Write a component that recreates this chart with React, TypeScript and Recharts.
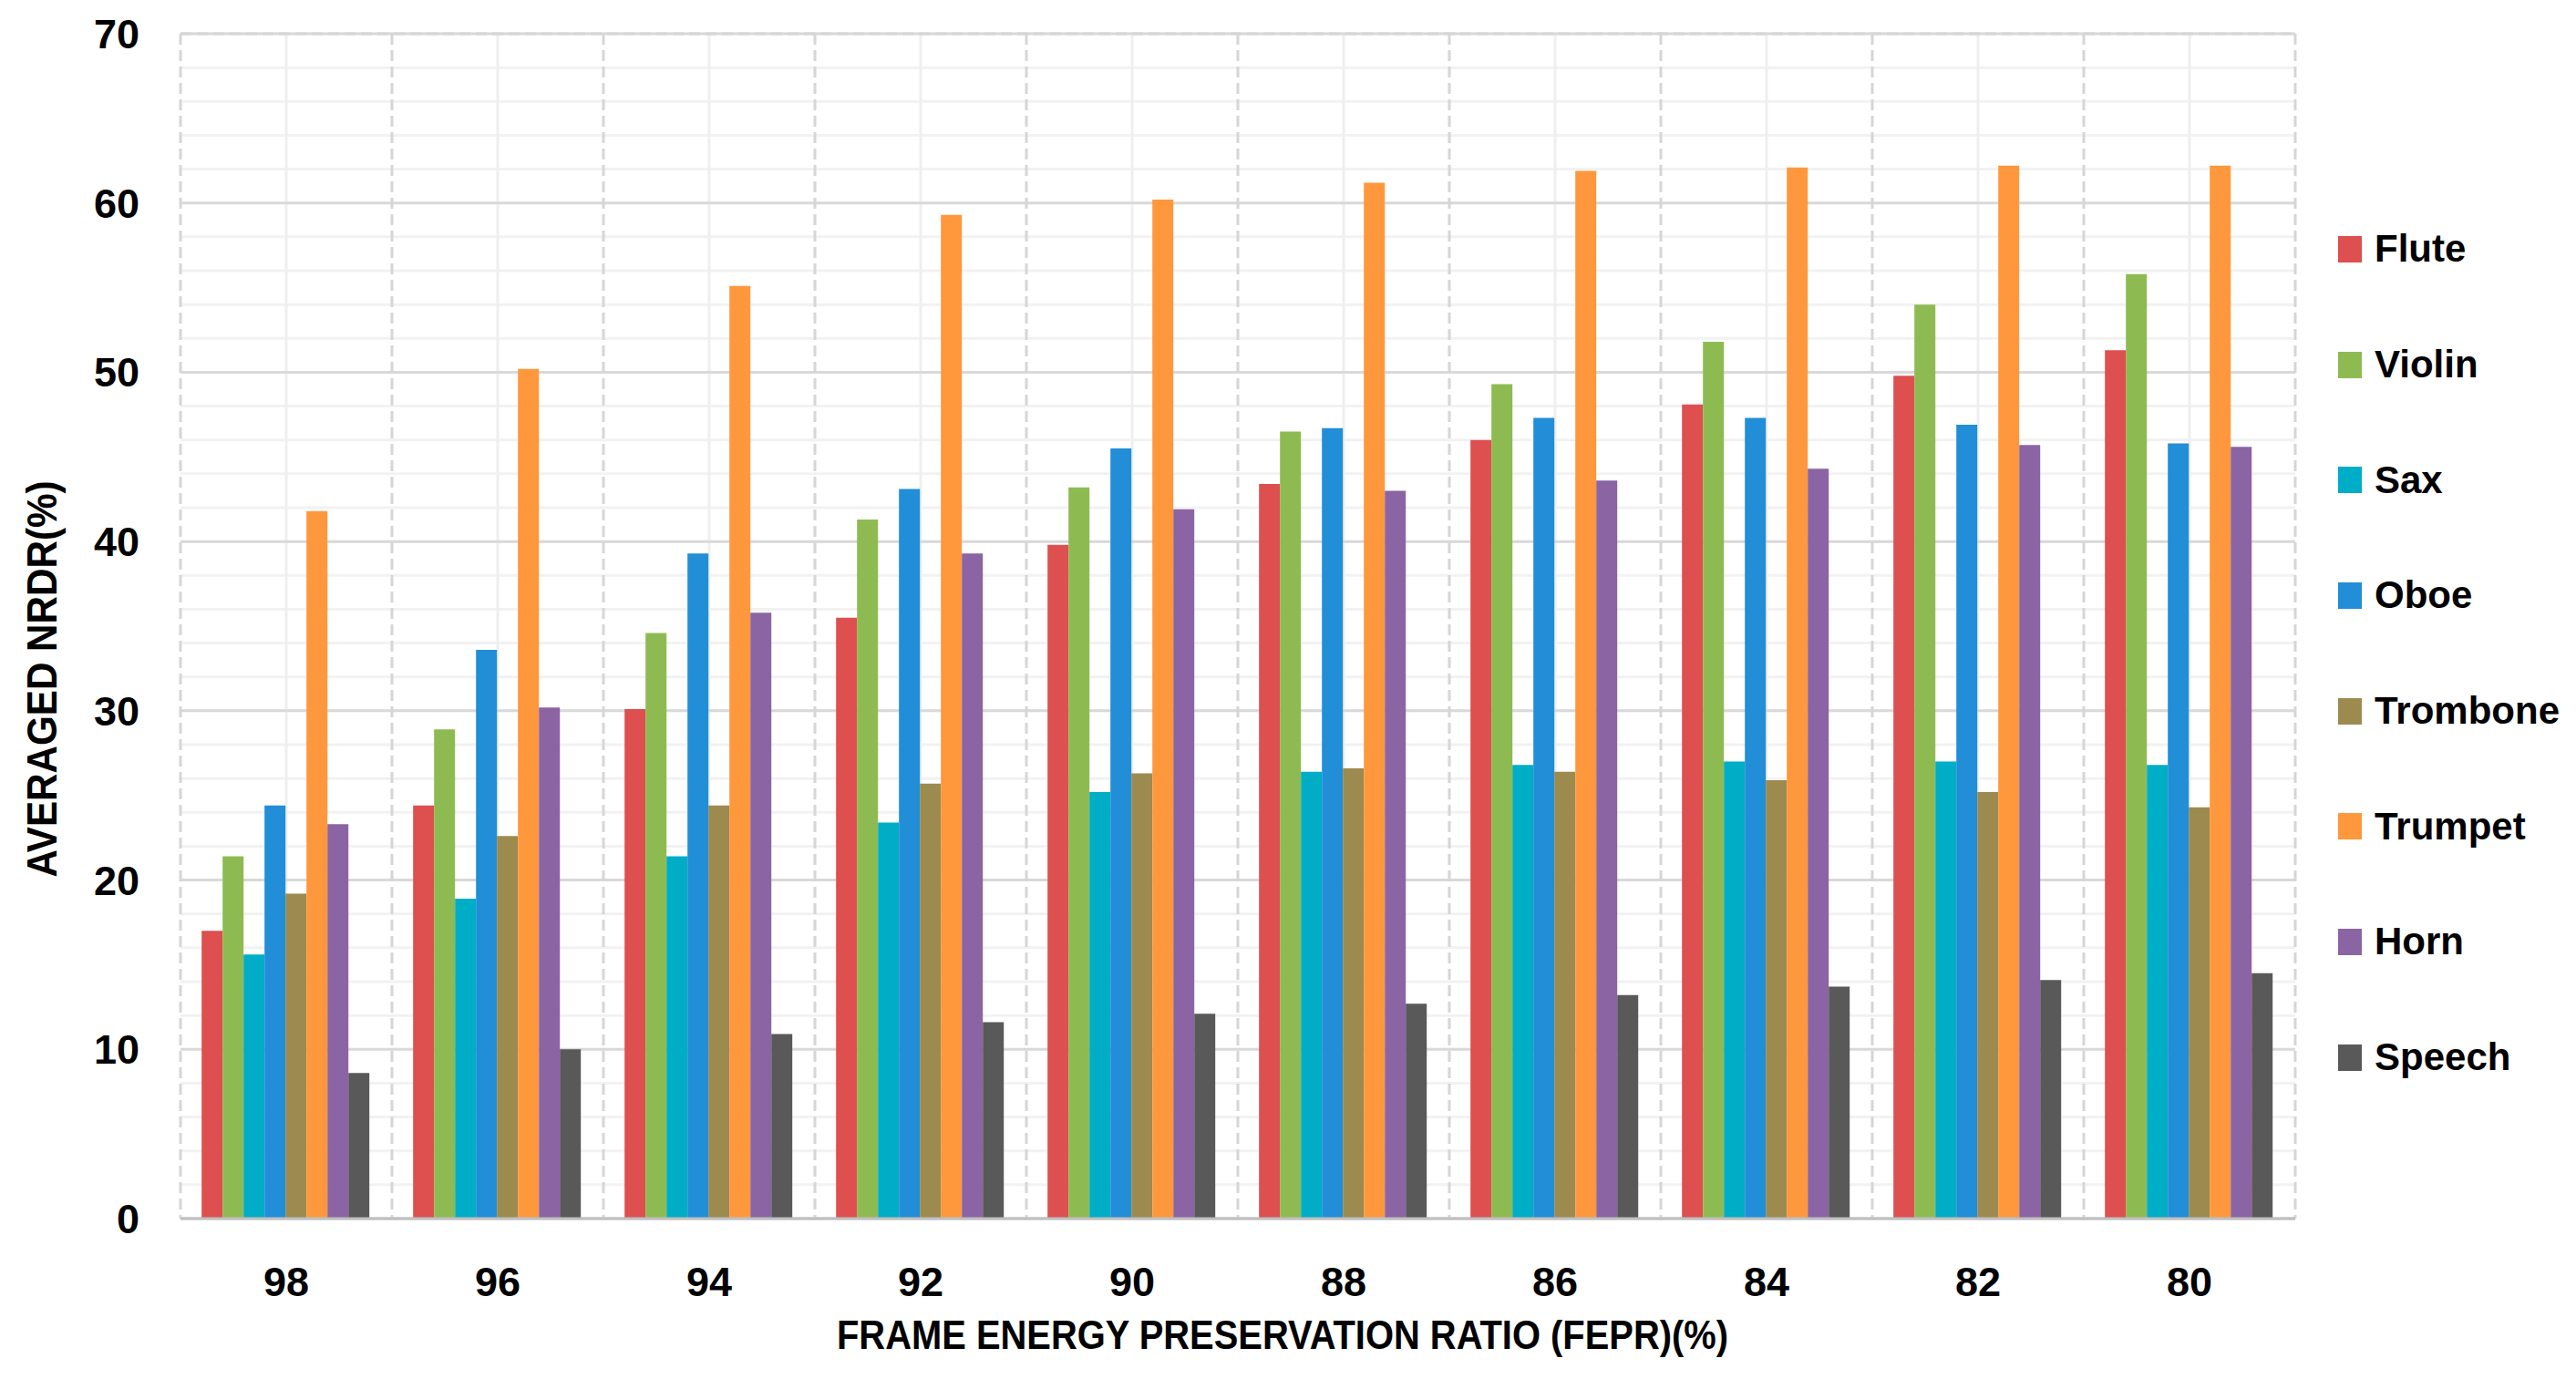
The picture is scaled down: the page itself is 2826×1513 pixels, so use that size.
import React from "react";
import {
  Bar, BarChart, CartesianGrid, Legend, ReferenceLine, XAxis, YAxis,
} from "recharts";

const FEPR = ["98", "96", "94", "92", "90", "88", "86", "84", "82", "80"];

const FLUTE = [17.0, 24.4, 30.1, 35.5, 39.8, 43.4, 46.0, 48.1, 49.8, 51.3];
const VIOLIN = [21.4, 28.9, 34.6, 41.3, 43.2, 46.5, 49.3, 51.8, 54.0, 55.8];
const SAX = [15.6, 18.9, 21.4, 23.4, 25.2, 26.4, 26.8, 27.0, 27.0, 26.8];
const OBOE = [24.4, 33.6, 39.3, 43.1, 45.5, 46.7, 47.3, 47.3, 46.9, 45.8];
const TROMBONE = [19.2, 22.6, 24.4, 25.7, 26.3, 26.6, 26.4, 25.9, 25.2, 24.3];
const TRUMPET = [41.8, 50.2, 55.1, 59.3, 60.2, 61.2, 61.9, 62.1, 62.2, 62.2];
const HORN = [23.3, 30.2, 35.8, 39.3, 41.9, 43.0, 43.6, 44.3, 45.7, 45.6];
const SPEECH = [8.6, 10.0, 10.9, 11.6, 12.1, 12.7, 13.2, 13.7, 14.1, 14.5];

const Y_TICKS = [0, 10, 20, 30, 40, 50, 60, 70];
const Y_MINOR = [0, 2, 4, 6, 8, 10, 12, 14, 16, 18, 20, 22, 24, 26, 28, 30, 32, 34, 36, 38, 40, 42, 44, 46, 48, 50, 52, 54, 56, 58, 60, 62, 64, 66, 68, 70];

const SERIES = [
  { key: "Flute", values: FLUTE, color: "#DE4F4F" },
  { key: "Violin", values: VIOLIN, color: "#8EBB51" },
  { key: "Sax", values: SAX, color: "#00ADC6" },
  { key: "Oboe", values: OBOE, color: "#218ED7" },
  { key: "Trombone", values: TROMBONE, color: "#9C8A4F" },
  { key: "Trumpet", values: TRUMPET, color: "#FF983C" },
  { key: "Horn", values: HORN, color: "#8B64A4" },
  { key: "Speech", values: SPEECH, color: "#595959" },
];
const ORDER = SERIES.map((s) => s.key);

const rows = FEPR.map((fepr, i) => {
  const row: Record<string, string | number> = { fepr };
  SERIES.forEach((s) => { row[s.key] = s.values[i]; });
  return row;
});

const tickFont = { fontFamily: "'Liberation Sans', Arial, sans-serif", fontWeight: 700, fontSize: 45, fill: "#000" };
const titleFont = "'Liberation Sans Narrow', 'Liberation Sans', Arial, sans-serif";

// vertical grid: dashed lines on category edges, light lines on category centres
const edgeLines = ({ offset }: any) => {
  const band = offset.width / FEPR.length;
  return [...FEPR.map((_, i) => offset.left + i * band), offset.left + offset.width];
};
const midLines = ({ offset }: any) => {
  const band = offset.width / FEPR.length;
  return FEPR.map((_, i) => offset.left + (i + 0.5) * band);
};

function renderLegend(props: any) {
  const payload = [...(props.payload || [])].sort(
    (a: any, b: any) => ORDER.indexOf(a.value) - ORDER.indexOf(b.value)
  );
  return (
    <div>
      {payload.map((entry: any) => (
        <div key={entry.value} style={{ display: "flex", alignItems: "center", height: 126.7 }}>
          <span style={{ display: "inline-block", width: 26, height: 29, background: entry.color, marginRight: 14 }} />
          <span style={{ fontFamily: "'Liberation Sans', Arial, sans-serif", fontWeight: 700, fontSize: 42, color: "#000" }}>
            {entry.value}
          </span>
        </div>
      ))}
    </div>
  );
}

export default function App() {
  return (
    <div style={{ position: "absolute", left: 0, top: 0, width: 2826, height: 1513, background: "#fff" }}>
      <BarChart
        width={2826}
        height={1513}
        data={rows}
        margin={{ top: 37, right: 308, bottom: 0, left: 0 }}
        barCategoryGap="10%"
        barGap={0}
      >
        <YAxis yAxisId="minor" type="number" domain={[0, 70]} ticks={Y_MINOR} allowDataOverflow hide />

        <CartesianGrid xAxisId="cat" yAxisId="minor" vertical={false} stroke="#f2f2f2" strokeWidth={3} />
        <CartesianGrid
          xAxisId="cat"
          yAxisId="main"
          horizontal={false}
          verticalCoordinatesGenerator={midLines}
          stroke="#efefef"
          strokeWidth={3}
        />
        <CartesianGrid xAxisId="cat" yAxisId="main" vertical={false} stroke="#d9d9d9" strokeWidth={3} />
        <CartesianGrid
          xAxisId="cat"
          yAxisId="main"
          horizontal={false}
          verticalCoordinatesGenerator={edgeLines}
          stroke="#d6d6d6"
          strokeWidth={3}
          strokeDasharray="12 6"
        />

        <XAxis
          xAxisId="cat"
          dataKey="fepr"
          height={176}
          interval={0}
          tickLine={false}
          tickSize={0}
          tickMargin={53}
          tick={tickFont}
          axisLine={{ stroke: "#bfbfbf", strokeWidth: 3 }}
          label={() => (
            <text
              x={1407}
              y={1480}
              textAnchor="middle"
              textLength={978}
              lengthAdjust="spacingAndGlyphs"
              fontFamily={titleFont}
              fontWeight={700}
              fontSize={45}
              fill="#000"
            >
              FRAME ENERGY PRESERVATION RATIO (FEPR)(%)
            </text>
          )}
        />
        <YAxis
          yAxisId="main"
          type="number"
          domain={[0, 70]}
          ticks={Y_TICKS}
          interval={0}
          width={198}
          axisLine={false}
          tickLine={false}
          tickSize={0}
          tickMargin={45}
          tick={tickFont}
          label={() => (
            <text
              transform="translate(45,745) rotate(-90)"
              textAnchor="middle"
              dy="0.36em"
              textLength={435}
              lengthAdjust="spacingAndGlyphs"
              fontFamily={titleFont}
              fontWeight={700}
              fontSize={47}
              fill="#000"
            >
              AVERAGED NRDR(%)
            </text>
          )}
        />

        <ReferenceLine xAxisId="cat" yAxisId="main" y={70} stroke="#d6d6d6" strokeWidth={3} strokeDasharray="12 6" />

        {SERIES.map((s) => (
          <Bar
            key={s.key}
            xAxisId="cat"
            yAxisId="main"
            dataKey={s.key}
            name={s.key}
            fill={s.color}
            isAnimationActive={false}
          />
        ))}

        <Legend
          layout="vertical"
          align="center"
          verticalAlign="middle"
          wrapperStyle={{ left: 2565, top: 210, width: 261 }}
          content={renderLegend}
        />
      </BarChart>
    </div>
  );
}
